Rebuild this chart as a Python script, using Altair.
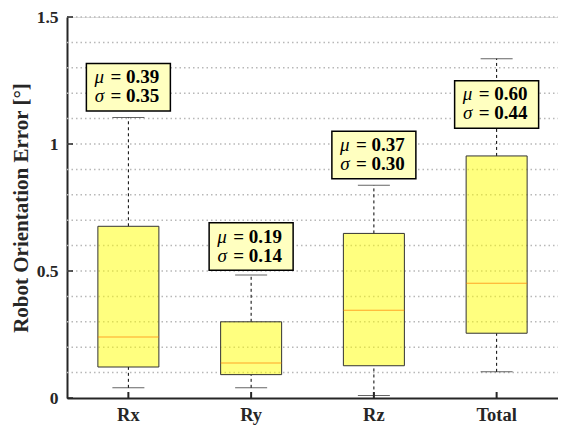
import altair as alt
import pandas as pd

cats = ["Rx", "Ry", "Rz", "Total"]
whisk_lo = [0.040, 0.040, 0.010, 0.103]
q1 = [0.122, 0.092, 0.127, 0.255]
median = [0.240, 0.138, 0.345, 0.452]
q3 = [0.676, 0.300, 0.648, 0.953]
whisk_hi = [1.104, 0.484, 0.838, 1.336]
mu = ["0.39", "0.19", "0.37", "0.60"]
sigma = ["0.35", "0.14", "0.30", "0.44"]
label_y = [1.223, 0.596, 0.957, 1.156]

grid_vals = [round(i * 0.1, 1) for i in range(1, 16)]
tick_vals = [0, 0.5, 1.0, 1.5]

df = pd.DataFrame({
    "cat": cats, "lo": whisk_lo, "q1": q1, "med": median, "q3": q3,
    "hi": whisk_hi, "mu": ["= " + m for m in mu], "sg": ["= " + s for s in sigma],
    "ly": label_y,
})
df["ly0"] = df["ly"] - 0.0935
df["ly1"] = df["ly"] + 0.0935
df["sym_mu"] = "μ"
df["sym_sg"] = "σ"

FONT = "Liberation Serif"
W, H = 491, 381

xenc = alt.X("cat:N", sort=cats, title=None,
             scale=alt.Scale(paddingInner=0, paddingOuter=0),
             axis=alt.Axis(labelAngle=0, ticks=False, labelFont=FONT, labelFontSize=18.5,
                           labelFontWeight="bold", labelColor="#262626", labelPadding=7,
                           domainColor="#262626", domainWidth=2))
yscale = alt.Scale(domain=[0, 1.5], nice=False)
yaxis = alt.Axis(values=tick_vals, format="~g", ticks=False, grid=False,
                 labelOverlap=False,
                 labelFont=FONT, labelFontSize=17.5, labelFontWeight="bold",
                 labelColor="#262626", labelPadding=9,
                 domainColor="#262626", domainWidth=2,
                 title="Robot Orientation Error [°]", titleFont=FONT, titleFontSize=21,
                 titleFontWeight="bold", titleColor="#262626", titlePadding=5)

base = alt.Chart(df)

grid_df = pd.DataFrame({"g": grid_vals})
grid = alt.Chart(grid_df).mark_rule(color="#b8b8b8", strokeWidth=1.5, strokeDash=[1.5, 3]).encode(
    x=alt.value(0), x2=alt.value(W), y=alt.Y("g:Q", scale=yscale, axis=yaxis))

whisk_up = base.mark_rule(color="black", strokeDash=[3, 3], strokeWidth=1).encode(
    x=xenc, y=alt.Y("q3:Q", scale=yscale), y2="hi:Q")
whisk_dn = base.mark_rule(color="black", strokeDash=[3, 3], strokeWidth=1).encode(
    x=xenc, y=alt.Y("lo:Q", scale=yscale), y2="q1:Q")
cap_hi = base.mark_tick(color="#222222", size=32, thickness=1, orient="horizontal").encode(
    x=xenc, y=alt.Y("hi:Q", scale=yscale))
cap_lo = base.mark_tick(color="#222222", size=32, thickness=1, orient="horizontal").encode(
    x=xenc, y=alt.Y("lo:Q", scale=yscale))
boxes = base.mark_bar(width=61, fill="#ffff00", fillOpacity=0.5, stroke="#333333",
                      strokeWidth=1).encode(
    x=xenc, y=alt.Y("q1:Q", scale=yscale), y2="q3:Q")
meds = base.mark_tick(color="#ff8000", size=61, thickness=1, orient="horizontal").encode(
    x=xenc, y=alt.Y("med:Q", scale=yscale))

lab_box = base.mark_bar(width=84, fill="#ffffc0", stroke="black", strokeWidth=1.5).encode(
    x=xenc, y=alt.Y("ly0:Q", scale=yscale), y2="ly1:Q")

txt_kw = dict(font=FONT, fontSize=19, color="black", baseline="alphabetic")
mu_sym = base.mark_text(fontStyle="italic", align="center", dx=-29, dy=-4, **txt_kw).encode(
    x=xenc, y=alt.Y("ly:Q", scale=yscale), text="sym_mu:N")
mu_txt = base.mark_text(fontWeight="bold", align="left", dx=-18, dy=-4, **txt_kw).encode(
    x=xenc, y=alt.Y("ly:Q", scale=yscale), text="mu:N")
sg_sym = base.mark_text(fontStyle="italic", align="center", dx=-29, dy=15, **txt_kw).encode(
    x=xenc, y=alt.Y("ly:Q", scale=yscale), text="sym_sg:N")
sg_txt = base.mark_text(fontWeight="bold", align="left", dx=-18, dy=15, **txt_kw).encode(
    x=xenc, y=alt.Y("ly:Q", scale=yscale), text="sg:N")

ytick_df = pd.DataFrame({"v": tick_vals})
yticks = alt.Chart(ytick_df).mark_rule(color="#262626", strokeWidth=1.5).encode(
    x=alt.value(0), x2=alt.value(6), y=alt.Y("v:Q", scale=yscale))
xticks = base.mark_rule(color="#262626", strokeWidth=2).encode(
    x=xenc, y=alt.value(H), y2=alt.value(H - 6))

chart = alt.layer(
    grid, whisk_up, whisk_dn, cap_hi, cap_lo, boxes, meds, lab_box,
    mu_sym, mu_txt, sg_sym, sg_txt, yticks, xticks
).properties(
    width=W, height=H,
    autosize=alt.AutoSizeParams(type="none"),
    padding={"left": 59, "top": 9, "right": 0, "bottom": 30},
).configure_view(stroke=None).configure(background="white")

chart.save("out.html", embed_options={"renderer": "svg", "actions": False})
